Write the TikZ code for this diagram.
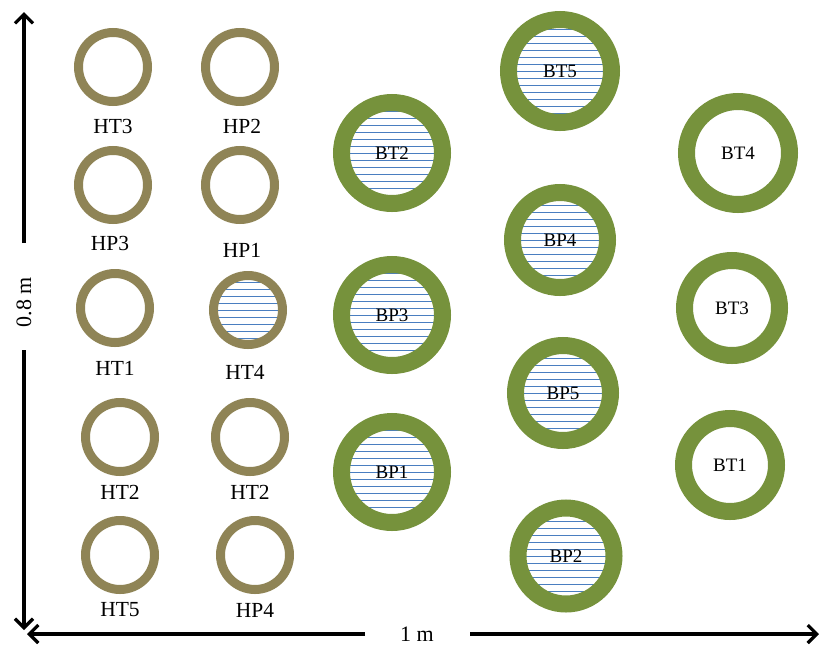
\documentclass[tikz,border=0pt]{standalone}
\usepackage{fontspec}
\setmainfont{Liberation Serif}
\usetikzlibrary{arrows.meta}

\definecolor{hcol}{RGB}{143,132,86}
\definecolor{bcol}{RGB}{118,146,60}
\definecolor{hatchcol}{RGB}{74,126,192}

\tikzset{
  hring/.style={circle, draw=hcol, line width=9pt, minimum size=69pt, inner sep=0pt, fill=white},
  bring/.style={circle, draw=bcol, line width=17pt, minimum size=101pt, inner sep=0pt, fill=white,
                font=\fontsize{19}{19}\selectfont},
  hatched/.style={path picture={
      \foreach \k in {-8,...,8}
        \draw[hatchcol, line width=1pt]
          ([yshift=\k*7pt]path picture bounding box.west) --
          ([yshift=\k*7pt]path picture bounding box.east);
  }},
  hlabel/.style={font=\fontsize{21.5}{21.5}\selectfont, inner sep=0pt},
  axis/.style={line width=3.2pt, -{Straight Barb[length=9pt,width=18pt]}},
  axislabel/.style={font=\fontsize{22}{22}\selectfont, inner sep=0pt},
}

\begin{document}
\begin{tikzpicture}[x=1pt, y=-1pt]
\useasboundingbox (0,0) rectangle (819,646);

% small hollow rings (left block)
\node[hring] (HT3) at (113,67) {};
\node[hring] (HP2) at (240,67) {};
\node[hring] (HP3) at (113,185) {};
\node[hring] (HP1) at (240,185) {};
\node[hring] (HT1) at (115,308) {};
\node[hring, hatched] (HT4) at (248,310) {};
\node[hring] (HT2a) at (120,437) {};
\node[hring] (HT2b) at (250,437) {};
\node[hring] (HT5) at (120,555) {};
\node[hring] (HP4) at (255,555) {};

\node[hlabel] (HT3-l) at (113,126) {HT3};
\node[hlabel] (HP2-l) at (242,126) {HP2};
\node[hlabel] (HP3-l) at (110,243) {HP3};
\node[hlabel] (HP1-l) at (242,250) {HP1};
\node[hlabel] (HT1-l) at (115,368) {HT1};
\node[hlabel] (HT4-l) at (245,372) {HT4};
\node[hlabel] (HT2a-l) at (120,492) {HT2};
\node[hlabel] (HT2b-l) at (250,492) {HT2};
\node[hlabel] (HT5-l) at (120,610) {HT5};
\node[hlabel] (HP4-l) at (255,610) {HP4};

% large rings
\node[bring, hatched] (BT2) at (392,153) {BT2};
\node[bring, hatched] (BP3) at (392,315) {BP3};
\node[bring, hatched] (BP1) at (392,472) {BP1};
\node[bring, hatched, minimum size=103pt] (BT5) at (560,71) {BT5};
\node[bring, hatched, minimum size=95pt] (BP4) at (560,240) {BP4};
\node[bring, hatched, minimum size=95pt] (BP5) at (563,393) {BP5};
\node[bring, hatched, minimum size=96pt] (BP2) at (566,556) {BP2};
\node[bring, minimum size=103pt] (BT4) at (738,153) {BT4};
\node[bring, minimum size=95pt] (BT3) at (732,308) {BT3};
\node[bring, minimum size=93pt] (BT1) at (730,465) {BT1};

% dimension arrows
\coordinate (vtop) at (24,12);
\coordinate (vgap1) at (24,243);
\coordinate (vgap2) at (24,350);
\coordinate (vbot) at (24,630);
\node[axislabel, rotate=90] (vlab) at (24,302) {0.8 m};
\draw[axis] (vgap1) -- (vtop);
\draw[axis] (vgap2) -- (vbot);

\coordinate (hleft) at (27,634);
\coordinate (hgap1) at (365,634);
\coordinate (hgap2) at (470,634);
\coordinate (hright) at (819,634);
\node[axislabel] (hlab) at (417,634) {1 m};
\draw[axis] (hgap1) -- (hleft);
\draw[axis] (hgap2) -- (hright);
\end{tikzpicture}
\end{document}
